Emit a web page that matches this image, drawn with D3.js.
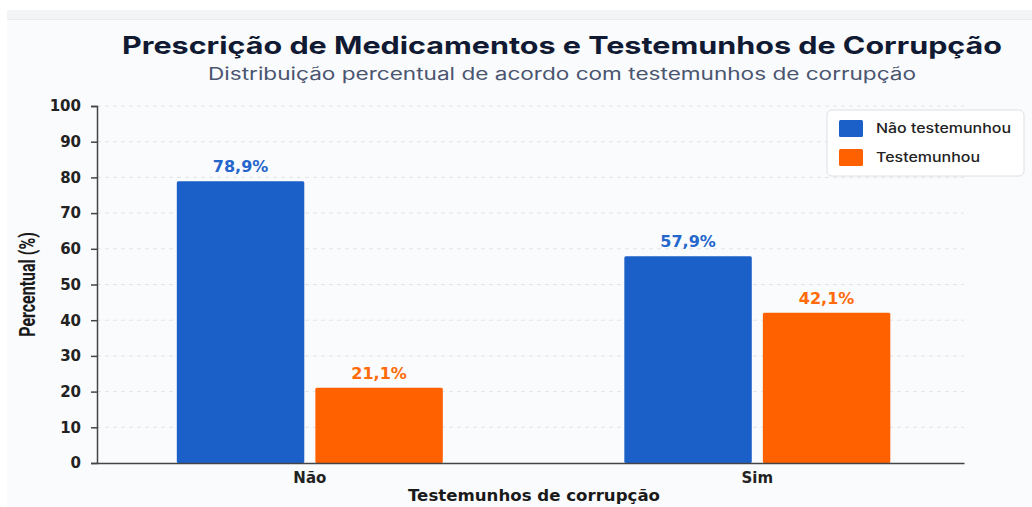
<!DOCTYPE html>
<html>
<head>
<meta charset="utf-8">
<script src="https://cdn.jsdelivr.net/npm/d3@7"></script>
<style>
  body { margin: 0; background: #ffffff; }
  svg { display: block; }
  .tick text { font-family: "DejaVu Sans", sans-serif; font-weight: bold; font-size: 15px; fill: #222; }
</style>
</head>
<body>
<div id="chart"></div>
<script>
// Data
const categories = ["Não", "Sim"];
const series = ["Não testemunhou", "Testemunhou"];
const naoTestemunhou = [78.9, 57.9];
const testemunhou = [21.1, 42.1];
const yTicks = [0, 10, 20, 30, 40, 50, 60, 70, 80, 90, 100];
const colors = ["#1b60c9", "#ff6000"];
const labelColors = ["#2566cc", "#ff6a0a"];

const width = 1032, height = 507;
const margin = { top: 106, right: 68, bottom: 44, left: 97 };
const innerW = width - margin.left - margin.right;
const innerH = height - margin.top - margin.bottom;

const svg = d3.select("#chart")
    .append("svg")
    .attr("width", width)
    .attr("height", height);

// background card
svg.append("rect").attr("width", width).attr("height", height).attr("fill", "#ffffff");
svg.append("rect").attr("x", 7).attr("y", 10).attr("width", width - 7).attr("height", height - 10).attr("fill", "#fafbfc");
svg.append("rect").attr("x", 7).attr("y", 10).attr("width", width - 7).attr("height", 9).attr("fill", "#f3f4f5");
svg.append("line").attr("x1", 7).attr("x2", width).attr("y1", 19.5).attr("y2", 19.5).attr("stroke", "#ececec");

// Titles (the source picture is stretched sideways, so text widths are fitted)
svg.append("text")
    .attr("x", 122).attr("y", 54)
    .attr("textLength", 880)
    .attr("lengthAdjust", "spacingAndGlyphs")
    .style("font-family", "Inter, 'Noto Sans', sans-serif")
    .style("font-weight", "bold")
    .style("font-size", "24px")
    .style("fill", "#111a33")
    .text("Prescrição de Medicamentos e Testemunhos de Corrupção");

svg.append("text")
    .attr("x", 208).attr("y", 80)
    .attr("textLength", 708)
    .attr("lengthAdjust", "spacingAndGlyphs")
    .style("font-family", "Inter, 'Noto Sans', sans-serif")
    .style("font-size", "17px")
    .style("fill", "#4a5570")
    .text("Distribuição percentual de acordo com testemunhos de corrupção");

const g = svg.append("g").attr("transform", `translate(${margin.left},${margin.top})`);

// Scales
const x0 = d3.scaleBand()
    .domain(categories)
    .range([0, innerW])
    .paddingInner(0.4056)
    .paddingOuter(0.1715)
    .align(0.52);

const x1 = d3.scaleBand()
    .domain(series)
    .range([0, x0.bandwidth()])
    .paddingInner(0.08);

const y = d3.scaleLinear()
    .domain([0, 100])
    .range([innerH, 0]);

// Gridlines
g.append("g")
    .selectAll("line")
    .data(yTicks.filter(d => d > 0))
    .enter()
    .append("line")
    .attr("x1", 0).attr("x2", innerW)
    .attr("y1", d => y(d)).attr("y2", d => y(d))
    .attr("stroke", "#e2e4e8")
    .attr("stroke-dasharray", "4,4");

// Bars
const rows = categories.map((c, i) => ({ cat: c, values: [naoTestemunhou[i], testemunhou[i]] }));

const groups = g.selectAll(".bar-group")
    .data(rows)
    .enter()
    .append("g")
    .attr("class", "bar-group")
    .attr("transform", d => `translate(${x0(d.cat)},0)`);

groups.selectAll("rect")
    .data(d => d.values.map((v, j) => ({ key: series[j], value: v, j: j })))
    .enter()
    .append("rect")
    .attr("x", d => x1(d.key))
    .attr("y", d => y(d.value))
    .attr("width", x1.bandwidth())
    .attr("height", d => innerH - y(d.value))
    .attr("rx", 1.5)
    .attr("fill", d => colors[d.j]);

groups.selectAll(".value")
    .data(d => d.values.map((v, j) => ({ key: series[j], value: v, j: j })))
    .enter()
    .append("text")
    .attr("class", "value")
    .attr("x", d => x1(d.key) + x1.bandwidth() / 2)
    .attr("y", d => y(d.value) - 9)
    .attr("text-anchor", "middle")
    .style("font-family", "'DejaVu Sans', sans-serif")
    .style("font-weight", "bold")
    .style("font-size", "16px")
    .style("fill", d => labelColors[d.j])
    .text(d => d.value.toFixed(1).replace(".", ",") + "%");

// Axes
const yAxis = g.append("g")
    .call(d3.axisLeft(y).tickValues(yTicks).tickSize(6).tickPadding(10));
yAxis.select(".domain").attr("stroke", "#444").attr("stroke-width", 1.5);
yAxis.selectAll(".tick line").attr("stroke", "#444").attr("stroke-width", 1.5);

const xAxis = g.append("g")
    .attr("transform", `translate(0,${innerH})`)
    .call(d3.axisBottom(x0).tickSize(0).tickPadding(8));
xAxis.select(".domain").attr("stroke", "#444").attr("stroke-width", 1.5);
xAxis.selectAll(".tick text").attr("dy", "0.8em");

// Axis titles
svg.append("text")
    .attr("transform", `translate(35,${margin.top + innerH / 2}) rotate(-90) scale(1,1.4)`)
    .attr("text-anchor", "middle")
    .style("font-family", "Roboto, sans-serif")
    .style("font-weight", "bold")
    .style("font-size", "16px")
    .style("fill", "#1a1a1a")
    .text("Percentual (%)");

svg.append("text")
    .attr("x", 408).attr("y", 501)
    .attr("textLength", 252)
    .attr("lengthAdjust", "spacingAndGlyphs")
    .style("font-family", "'DejaVu Sans', sans-serif")
    .style("font-weight", "bold")
    .style("font-size", "15px")
    .style("fill", "#1a1a1a")
    .text("Testemunhos de corrupção");

// Legend
const legendWidths = [135, 104];
const legend = svg.append("g").attr("transform", "translate(827,110)");
legend.append("rect")
    .attr("width", 197).attr("height", 66)
    .attr("rx", 5)
    .attr("fill", "#ffffff")
    .attr("stroke", "#dcdfe4");

series.forEach((s, i) => {
    const row = legend.append("g").attr("transform", `translate(12,${10 + i * 29})`);
    row.append("rect")
        .attr("width", 24).attr("height", 17)
        .attr("rx", 1.5)
        .attr("fill", colors[i]);
    row.append("text")
        .attr("x", 37).attr("y", 13)
        .attr("textLength", legendWidths[i])
        .attr("lengthAdjust", "spacingAndGlyphs")
        .style("font-family", "Inter, 'Noto Sans', sans-serif")
        .style("font-weight", 500)
        .style("font-size", "13px")
        .style("fill", "#222")
        .text(s);
});
</script>
</body>
</html>
